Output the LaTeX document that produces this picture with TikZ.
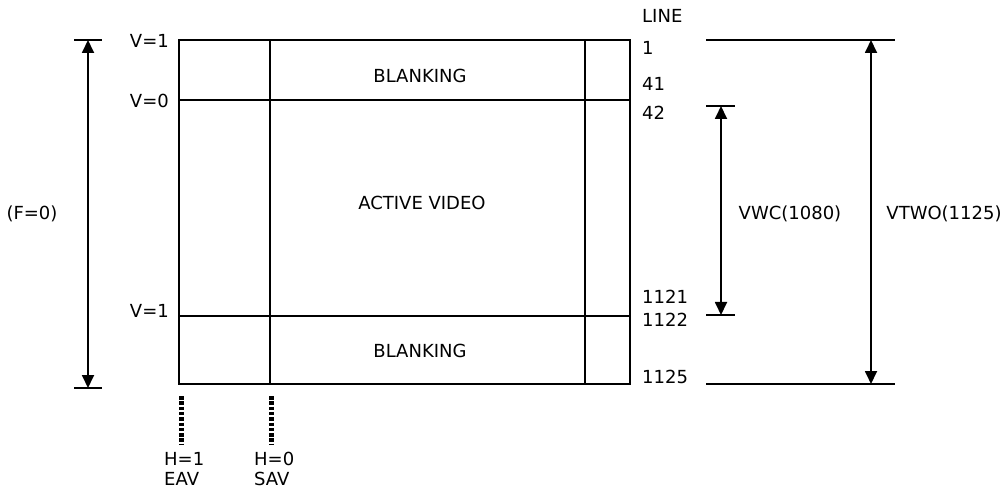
\documentclass[tikz,border=0pt]{standalone}
\usepackage{fontspec}
\setmainfont{DejaVu Sans}
\usetikzlibrary{arrows.meta}
\begin{document}
\begin{tikzpicture}[x=1pt,y=-1pt,
  lbl/.style={font=\fontsize{18}{19}\selectfont, inner sep=0pt, text=black},
  grid/.style={line width=1.6pt, black},
  dim/.style={line width=1.8pt, {Triangle[length=13pt,width=12pt]}-{Triangle[length=13pt,width=12pt]}},
  tick/.style={line width=1.6pt},
  dots/.style={line width=5pt, dash pattern=on 3.5pt off 1.8pt}]
\useasboundingbox (0,0) rectangle (1004,494);
% frame
\draw[grid] (179,40) rectangle (630,384);
\draw[grid] (179,100) -- (630,100);
\draw[grid] (179,316) -- (630,316);
\draw[grid] (270,40) -- (270,384);
\draw[grid] (585,40) -- (585,384);
% area labels
\node[lbl] (blank1) at (420,76) {BLANKING};
\node[lbl] (active) at (422,203) {ACTIVE VIDEO};
\node[lbl] (blank2) at (420,351) {BLANKING};
% V labels
\node[lbl, anchor=east] (v1) at (169,41) {V=1};
\node[lbl, anchor=east] (v0) at (169,101) {V=0};
\node[lbl, anchor=east] (v1b) at (169,311) {V=1};
% left dimension
\coordinate (ltop) at (88,40);
\coordinate (lbot) at (88,388);
\draw[tick] (74,40) -- (102,40);
\draw[tick] (74,388) -- (102,388);
\draw[dim] (ltop) -- (lbot);
\node[lbl] (f0) at (32,214) {(F=0)};
% line numbers
\node[lbl, anchor=west] (line) at (642,16) {LINE};
\node[lbl, anchor=west] (l1) at (642,48) {1};
\node[lbl, anchor=west] (l41) at (642,84) {41};
\node[lbl, anchor=west] (l42) at (642,113) {42};
\node[lbl, anchor=west] (l1121) at (642,297) {1121};
\node[lbl, anchor=west] (l1122) at (642,320) {1122};
\node[lbl, anchor=west] (l1125) at (642,377) {1125};
% right dimensions
\draw[tick] (706,40) -- (895,40);
\draw[tick] (706,384) -- (895,384);
\coordinate (ttop) at (871,40);
\coordinate (tbot) at (871,384);
\draw[dim] (ttop) -- (tbot);
\draw[tick] (706,106) -- (735,106);
\draw[tick] (706,315) -- (735,315);
\coordinate (wtop) at (721,106);
\coordinate (wbot) at (721,315);
\draw[dim] (wtop) -- (wbot);
\node[lbl] (vwc) at (790,214) {VWC(1080)};
\node[lbl] (vtwo) at (944,214) {VTWO(1125)};
% dotted markers
\coordinate (d1t) at (181,396);
\coordinate (d1b) at (181,445);
\coordinate (d2t) at (271,396);
\coordinate (d2b) at (271,445);
\draw[dots] (d1t) -- (d1b);
\draw[dots] (d2t) -- (d2b);
\node[lbl, anchor=west] (h1) at (164,459) {H=1};
\node[lbl, anchor=west] (eav) at (164,479) {EAV};
\node[lbl, anchor=west] (h0) at (254,459) {H=0};
\node[lbl, anchor=west] (sav) at (254,479) {SAV};
\end{tikzpicture}
\end{document}
